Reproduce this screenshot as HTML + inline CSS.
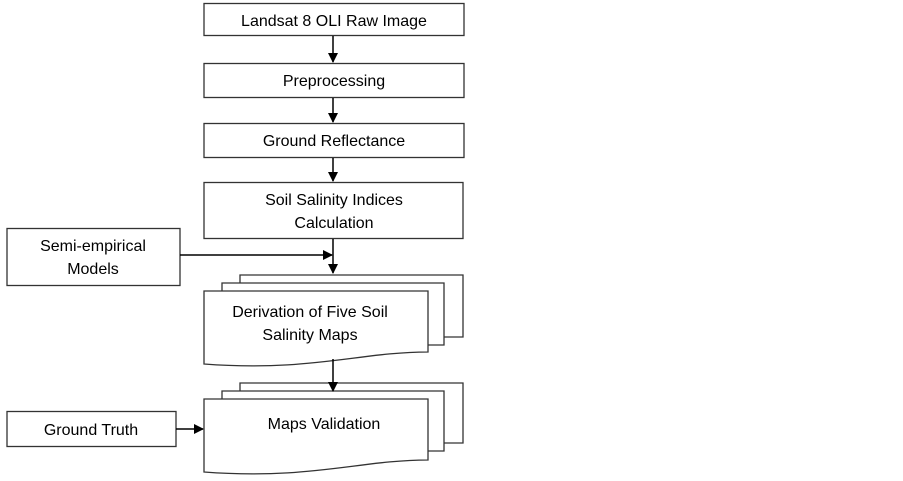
<!DOCTYPE html>
<html><head><style>body{margin:0;background:#fff}</style></head><body>
<svg width="903" height="476" xmlns="http://www.w3.org/2000/svg" font-family="Liberation Sans, sans-serif" font-size="16" fill="#000">
<defs><marker id="a" markerWidth="10" markerHeight="10" refX="9" refY="5" orient="auto" markerUnits="userSpaceOnUse"><path d="M0,0 L10,5 L0,10 z" fill="#000"/></marker></defs>
<g fill="#fff" stroke="#333" stroke-width="1.3">
<rect x="204" y="3.5" width="260" height="32"/>
<rect x="204" y="63.5" width="260" height="34"/>
<rect x="204" y="123.5" width="260" height="34"/>
<rect x="204" y="182.5" width="259" height="56"/>
<rect x="7" y="228.5" width="173" height="57"/>
<rect x="7" y="411.5" width="169" height="35"/>
<path d="M240,337 L240,275 L463,275 L463,337 Z"/>
<path d="M222,345 L222,283 L444,283 L444,345 Z"/>
<path d="M204,291 L428,291 L428,352 C360,352 310,372 204,364 Z"/>
<path d="M240,443 L240,383 L463,383 L463,443 Z"/>
<path d="M222,451 L222,391 L444,391 L444,451 Z"/>
<path d="M204,399 L428,399 L428,460 C360,460 310,480 204,472 Z"/>
</g>
<g stroke="#000" stroke-width="1.5" fill="none" marker-end="url(#a)">
<line x1="333" y1="36" x2="333" y2="62"/>
<line x1="333" y1="98" x2="333" y2="122"/>
<line x1="333" y1="158" x2="333" y2="181"/>
<line x1="333" y1="239" x2="333" y2="273"/>
<line x1="180" y1="255" x2="332" y2="255"/>
<line x1="333" y1="359" x2="333" y2="391"/>
<line x1="176" y1="429" x2="203" y2="429"/>
</g>
<g text-anchor="middle">
<text x="334" y="26">Landsat 8 OLI Raw Image</text>
<text x="334" y="86">Preprocessing</text>
<text x="334" y="146">Ground Reflectance</text>
<text x="334" y="205">Soil Salinity Indices</text>
<text x="334" y="228">Calculation</text>
<text x="93" y="251">Semi-empirical</text>
<text x="93" y="274">Models</text>
<text x="91" y="435">Ground Truth</text>
<text x="310" y="317">Derivation of Five Soil</text>
<text x="310" y="340">Salinity Maps</text>
<text x="324" y="429">Maps Validation</text>
</g>
</svg>
</body></html>
